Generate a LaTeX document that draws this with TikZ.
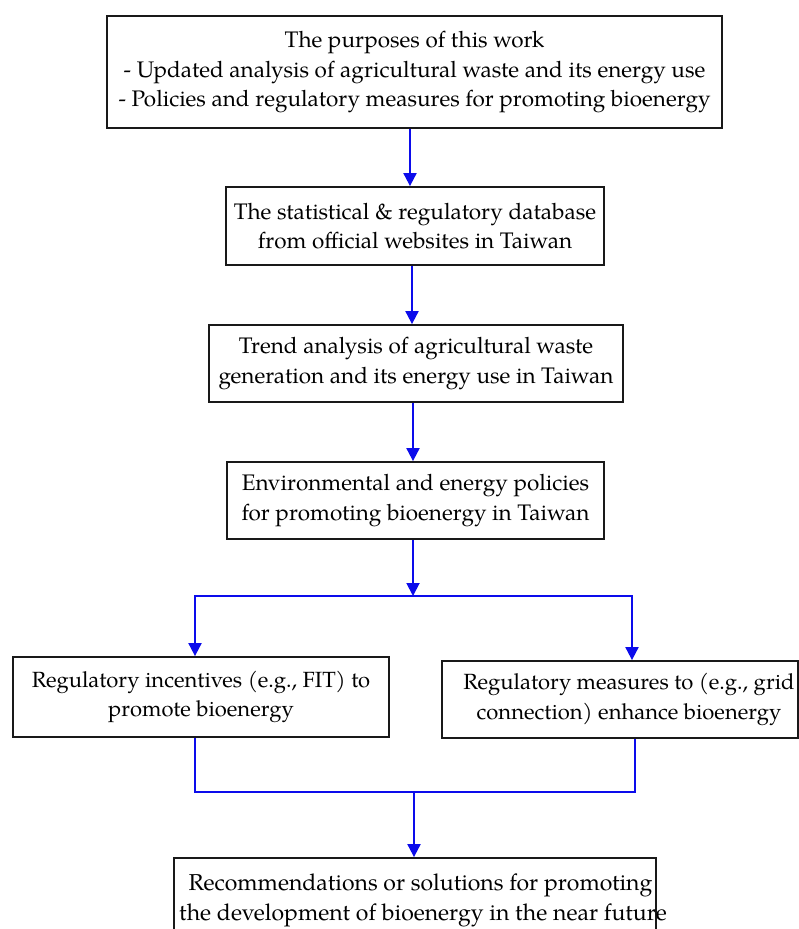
\documentclass[tikz,border=0pt]{standalone}
\usepackage{fontspec}
\setmainfont{TeX Gyre Pagella}
\usetikzlibrary{arrows.meta}
\definecolor{flowblue}{RGB}{12,12,235}
\definecolor{boxline}{RGB}{25,25,25}
\begin{document}
\begin{tikzpicture}[x=1pt,y=-1pt,
  box/.style={draw=boxline, line width=1.8pt, inner sep=0pt, align=center,
    font=\fontsize{22.5}{29.5}\selectfont, text=black},
  conn/.style={draw=flowblue, line width=1.9pt},
  arr/.style={conn, -{Triangle[length=13pt,width=13pt]}}]
\useasboundingbox (0,0) rectangle (799,929);
\clip (0,0) rectangle (799,929);
\fill[white] (0,0) rectangle (799,929);

\node[box, minimum width=615pt, minimum height=112pt] (b1) at (414.5,72)
  {The purposes of this work\\- Updated analysis of agricultural waste and its energy use\\- Policies and regulatory measures for promoting bioenergy};
\node[box, minimum width=378pt, minimum height=78pt] (b2) at (415,226)
  {The statistical \& regulatory database\\from official websites in Taiwan};
\node[box, minimum width=414pt, minimum height=77pt] (b3) at (416,363.5)
  {Trend analysis of agricultural waste\\generation and its energy use in Taiwan};
\node[box, minimum width=377pt, minimum height=77pt] (b4) at (415.5,500.5)
  {Environmental and energy policies\\for promoting bioenergy in Taiwan};
\node[box, minimum width=376pt, minimum height=80pt, font=\fontsize{22}{29.5}\selectfont] (L) at (201,697)
  {Regulatory incentives (e.g., FIT) to\\promote bioenergy};
\node[box, minimum width=356pt, minimum height=77pt, font=\fontsize{22}{29.5}\selectfont] (R) at (620,699.5)
  {\hspace*{18pt}Regulatory measures to (e.g., grid\\\hspace*{18pt}connection) enhance bioenergy};
\node[box, minimum width=482pt, minimum height=84pt, font=\fontsize{23}{30}\selectfont] (b6) at (415,900)
  {\hspace*{11pt}Recommendations or solutions for promoting\\\makebox[472pt][l]{the development of bioenergy in the near future}};

\coordinate (sp) at (413,596);
\coordinate (mg) at (414,792);

\draw[arr] ([xshift=-4.5pt]b1.south) -- ([xshift=-4.5pt]b1.south |- b2.north);
\draw[arr] ([xshift=-3pt]b2.south) -- ([xshift=-3pt]b2.south |- b3.north);
\draw[arr] ([xshift=-3pt]b3.south) -- ([xshift=-3pt]b3.south |- b4.north);
\draw[arr] (b4.south -| sp) -- (sp);
\draw[arr] (sp) -| ([xshift=-6pt]L.north);
\draw[arr] (sp) -| ([xshift=12pt]R.north);
\draw[conn] ([xshift=-6pt]L.south) |- (mg) -| ([xshift=15pt]R.south);
\draw[arr] (mg) -- (mg |- b6.north);
\end{tikzpicture}
\end{document}
